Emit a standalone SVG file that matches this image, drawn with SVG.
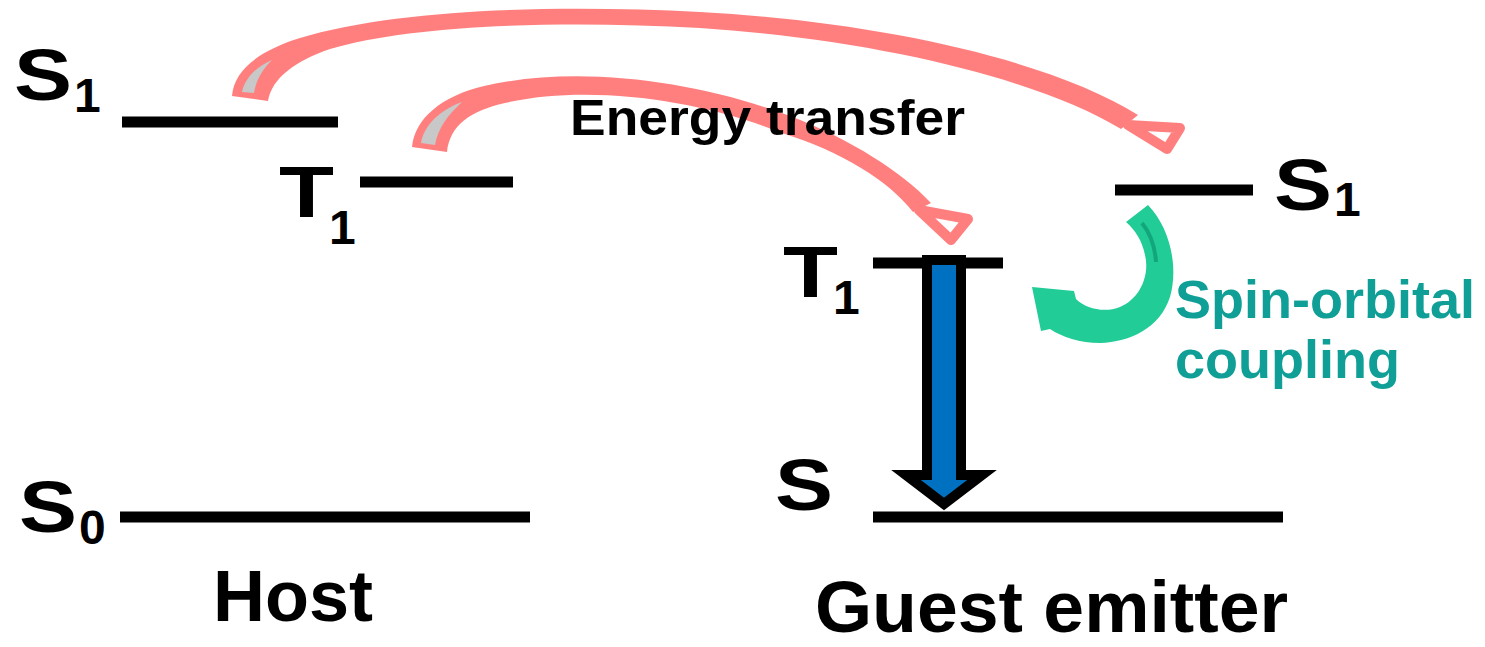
<svg xmlns="http://www.w3.org/2000/svg" width="1485" height="647" viewBox="0 0 1485 647">
<style>
.lbl{font-family:"Liberation Sans",Arial,sans-serif;font-weight:bold;fill:#000}
.big{font-size:72px}
.sub{font-size:48px}
.lvl{stroke:#000;stroke-width:11;fill:none}
.pink{fill:#ff7f7f}
.pinkhead{fill:#fff;stroke:#ff7f7f;stroke-width:10;stroke-linejoin:round}
.gray{fill:#c8c8c8}
.teal{font-family:"Liberation Sans",Arial,sans-serif;font-weight:bold;font-size:54px;fill:#0f9f96}
</style>
<rect width="1485" height="647" fill="#fff"/>
<g id="host-S1"><line class="lvl" x1="122" y1="122" x2="338" y2="122"/><text class="lbl big" x="14" y="100" textLength="58" lengthAdjust="spacingAndGlyphs">S</text><text class="lbl sub" x="74" y="112">1</text></g>
<g id="host-T1"><line class="lvl" x1="360" y1="182" x2="513" y2="182"/><text class="lbl big" x="279" y="217" textLength="55" lengthAdjust="spacingAndGlyphs">T</text><text class="lbl sub" x="329" y="244">1</text></g>
<g id="host-S0"><line class="lvl" x1="120" y1="517" x2="530" y2="517"/><text class="lbl big" x="19" y="532" textLength="58" lengthAdjust="spacingAndGlyphs">S</text><text class="lbl sub" x="79" y="544">0</text></g>
<g id="host-label"><text class="lbl big" x="213" y="621">Host</text></g>
<g id="guest-T1"><line class="lvl" x1="873" y1="263" x2="1003" y2="263"/><text class="lbl big" x="783" y="297" textLength="55" lengthAdjust="spacingAndGlyphs">T</text><text class="lbl sub" x="833" y="314">1</text></g>
<g id="guest-S1"><line class="lvl" x1="1115" y1="190" x2="1253" y2="190"/><text class="lbl big" x="1274" y="210" textLength="58" lengthAdjust="spacingAndGlyphs">S</text><text class="lbl sub" x="1334" y="216">1</text></g>
<g id="guest-S"><line class="lvl" x1="873" y1="517" x2="1283" y2="517"/><text class="lbl big" x="775" y="510" textLength="58" lengthAdjust="spacingAndGlyphs">S</text></g>
<g id="guest-label"><text class="lbl big" x="815" y="632" textLength="473" lengthAdjust="spacingAndGlyphs">Guest emitter</text></g>
<g id="connectors">
<g id="et-S1">
<path class="pink" d="M232,96 C234,72 255,52 300,38 C400,8 560,5 700,12 C880,22 1050,60 1138,115 L1121,129 C1040,80 880,40 700,28 C560,20 410,25 330,49 C295,61 272,78 268,101 Z"/>
<path class="gray" d="M242,92 C245,78 256,67 272,60 C262,70 256,80 254,93 Z"/>
<polygon class="pinkhead" points="1128,125 1180,128 1167,149"/>
</g>
<g id="et-T1">
<path class="pink" d="M412,147 C415,118 442,96 484,86 C580,64 700,82 790,116 C852,140 902,172 931,203 L913,212 C888,180 842,152 782,133 C700,100 590,84 505,103 C470,111 450,125 447,152 Z"/>
<path class="gray" d="M421,143 C424,125 440,110 462,102 C448,115 438,128 435,145 Z"/>
<polygon class="pinkhead" points="919,210 968,219 951,240"/>
</g>
<g id="soc">
<path fill="#22cc96" d="M1148,205 C1172,230 1178,270 1170,297 C1160,328 1130,342 1100,343 C1080,343 1062,337 1050,329 L1041,331 L1032,287 L1074,291 L1076,299 C1086,309 1105,313 1120,307 C1140,299 1150,275 1145,255 C1142,240 1135,230 1126,222 Z"/>
<path d="M1142,223 C1150,233 1155,246 1156,262" fill="none" stroke="#13a67c" stroke-width="4"/>
</g>
<g id="emission">
<path d="M927,260 L961,260 L961,475 L982,475 L944,504 L906,475 L927,475 Z" fill="#0070c0" stroke="#000" stroke-width="10" stroke-linejoin="miter"/>
</g>
</g>
<g id="labels">
<text class="lbl" font-size="50" x="570" y="135" textLength="395" lengthAdjust="spacingAndGlyphs">Energy transfer</text>
<text class="teal" x="1175" y="318">Spin-orbital</text>
<text class="teal" x="1175" y="378">coupling</text>
</g>
</svg>
